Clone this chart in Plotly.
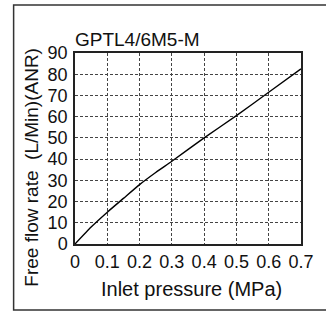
import plotly.graph_objects as go

# inlet pressure (MPa) and free flow rate (L/Min ANR)
pressure = [0, 0.05, 0.1, 0.15, 0.2, 0.25, 0.3, 0.4, 0.5, 0.6, 0.7]
flow = [0, 8, 15, 21.5, 28, 33.7, 39, 50, 60.5, 71.5, 82.5]

x_ticks = [0, 0.1, 0.2, 0.3, 0.4, 0.5, 0.6, 0.7]
x_labels = ["0", "0.1", "0.2", "0.3", "0.4", "0.5", "0.6", "0.7"]
y_ticks = [0, 10, 20, 30, 40, 50, 60, 70, 80, 90]

FONT = "Liberation Sans, Arial, sans-serif"

fig = go.Figure()

fig.add_trace(go.Scatter(
    x=pressure,
    y=flow,
    mode="lines",
    line=dict(color="black", width=1.4, shape="spline", smoothing=0.5),
    showlegend=False,
))

axis_common = dict(
    showline=True,
    mirror=True,
    linecolor="#222",
    linewidth=1.5,
    showgrid=True,
    gridcolor="#444",
    gridwidth=1,
    griddash="3px,2px",
    zeroline=False,
    ticks="",
    tickfont=dict(size=18, color="#111", family=FONT),
)

fig.update_xaxes(
    range=[0, 0.7],
    tickvals=x_ticks,
    ticktext=x_labels,
    ticklabelstandoff=1,
    **axis_common,
)
fig.update_yaxes(
    range=[0, 90],
    tickvals=y_ticks,
    ticklabelstandoff=2,
    **axis_common,
)

fig.update_layout(
    width=326,
    height=320,
    margin=dict(l=75, r=19, t=53, b=76),
    plot_bgcolor="white",
    paper_bgcolor="white",
    font=dict(family=FONT, color="#111"),
    annotations=[
        dict(text="GPTL4/6M5-M", xref="paper", yref="paper",
             x=0, y=1.0, xanchor="left", yanchor="bottom", yshift=1, xshift=-2,
             showarrow=False, font=dict(size=19)),
        dict(text="Inlet pressure (MPa)", xref="paper", yref="paper",
             x=0.515, y=-0.236, xanchor="center", yanchor="middle",
             showarrow=False, font=dict(size=20)),
        dict(text="Free flow rate  (L/Min)(ANR)", xref="paper", yref="paper",
             x=-0.19, y=0.40, xanchor="center", yanchor="middle",
             textangle=-90, showarrow=False, font=dict(size=19)),
    ],
    shapes=[
        dict(type="rect", xref="paper", yref="paper",
             x0=-0.2716, x1=1.12, y0=-0.3455, y1=1.251,
             line=dict(color="#333", width=1.5)),
    ],
)

fig.write_html("out.html", config={"displayModeBar": False},
               post_script="document.body.style.margin='0';")
